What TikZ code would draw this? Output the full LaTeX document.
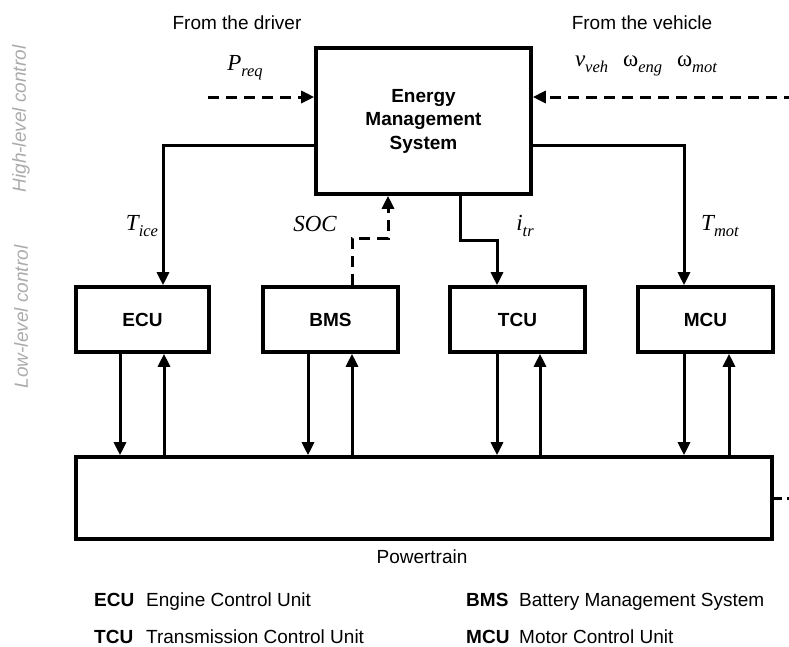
\documentclass[tikz,border=0pt]{standalone}
\usepackage{fontspec}
\setmainfont{Liberation Sans}
\newfontfamily\tms{Liberation Serif}
\usetikzlibrary{arrows.meta,calc}
\newcommand\sy[2]{{\tms\fontsize{23}{25}\selectfont\itshape #1\raisebox{-0.26em}{\fontsize{16.5}{17}\selectfont #2}}}
\newcommand\om[1]{{\tms\fontsize{23}{25}\selectfont ω\raisebox{-0.26em}{\fontsize{16.5}{17}\selectfont\itshape #1}}}
\begin{document}
\begin{tikzpicture}[x=1pt,y=-1pt,
  every node/.style={font=\fontsize{19}{23.5}\selectfont},
  box/.style={draw, line width=3.6pt, inner sep=0pt, font=\fontsize{19}{23.5}\selectfont\bfseries, align=center},
  conn/.style={line width=3pt, -{Triangle[length=13pt,width=12pt]}},
  dconn/.style={conn, dash pattern=on 11pt off 7pt},
  side/.style={rotate=90, text=black!33, font=\fontsize{19}{23.5}\selectfont\itshape},
  leg/.style={anchor=base west, inner sep=0pt},
  legb/.style={leg, font=\fontsize{19}{23.5}\selectfont\bfseries}]
\useasboundingbox (0,0) rectangle (789,646);

% boxes
\node[box, minimum width=215pt, minimum height=146pt] (ems) at (423.5,121) {Energy\\Management\\System};
\node[box, minimum width=133pt, minimum height=65pt] (ecu) at (142.5,319.5) {ECU};
\node[box, minimum width=135pt, minimum height=65pt] (bms) at (330.5,319.5) {BMS};
\node[box, minimum width=135pt, minimum height=65pt] (tcu) at (517.5,319.5) {TCU};
\node[box, minimum width=135pt, minimum height=65pt] (mcu) at (705.5,319.5) {MCU};
\node[box, minimum width=696pt, minimum height=82pt] (pt) at (424,498) {};

% side labels
\node[side] (hl) at (21,119) {High-level control};
\node[side] (ll) at (21,317) {Low-level control};

% top texts
\node (drv) at (237,23) {From the driver};
\node (veh) at (642,23) {From the vehicle};
\node (preq) at (245,68) {\sy{P}{req}};
\node (vars) at (646,66) {\sy{v}{veh}\hspace{15pt}\om{eng}\hspace{15pt}\om{mot}};

% inputs
\coordinate (drvin) at (208,97);
\coordinate (vehin) at (795,97);
\draw[dconn] (drvin) -- (drvin -| ems.west);
\draw[dconn] (vehin) -- (vehin -| ems.east);

% EMS outputs
\draw[conn] ([yshift=-24pt]ems.west) -| ([xshift=20.5pt]ecu.north);
\draw[conn] ([yshift=-24pt]ems.east) -| ([xshift=-21.5pt]mcu.north);
\draw[conn] ([xshift=36.5pt]ems.south) -- ++(0,45) -| ([xshift=-20.5pt]tcu.north);
\draw[dconn] ([xshift=21.5pt]bms.north) -- ++(0,-47) -| ([xshift=-35.5pt]ems.south);

% labels on signals
\node (tice) at (142,226) {\sy{T}{ice}};
\node (soc) at (315,224) {{\tms\fontsize{23}{25}\selectfont\itshape SOC}};
\node (itr) at (525,226) {\sy{i}{tr}};
\node (tmot) at (720,226) {\sy{T}{mot}};

% low-level links
\foreach \b/\d/\u in {ecu/-22.5/21.5, bms/-22.5/21.5, tcu/-20.5/22.5, mcu/-21.5/23.5}{
  \draw[conn] ([xshift=\d pt]\b.south) -- ([xshift=\d pt]\b.south |- pt.north);
  \draw[conn] ([xshift=\u pt]\b.south |- pt.north) -- ([xshift=\u pt]\b.south);
}

% powertrain output
\coordinate (ptout) at (795,498);
\draw[line width=3pt, dash pattern=on 8pt off 5pt] (pt.east) -- (ptout);
\node (ptl) at (422,557) {Powertrain};

% legend
\node[legb] (l1) at (94,606) {ECU};
\node[leg] (l1t) at (146,606) {Engine Control Unit};
\node[legb] (l2) at (94,643) {TCU};
\node[leg] (l2t) at (146,643) {Transmission Control Unit};
\node[legb] (l3) at (466,606) {BMS};
\node[leg] (l3t) at (519,606) {Battery Management System};
\node[legb] (l4) at (466,643) {MCU};
\node[leg] (l4t) at (519,643) {Motor Control Unit};
\end{tikzpicture}
\end{document}
